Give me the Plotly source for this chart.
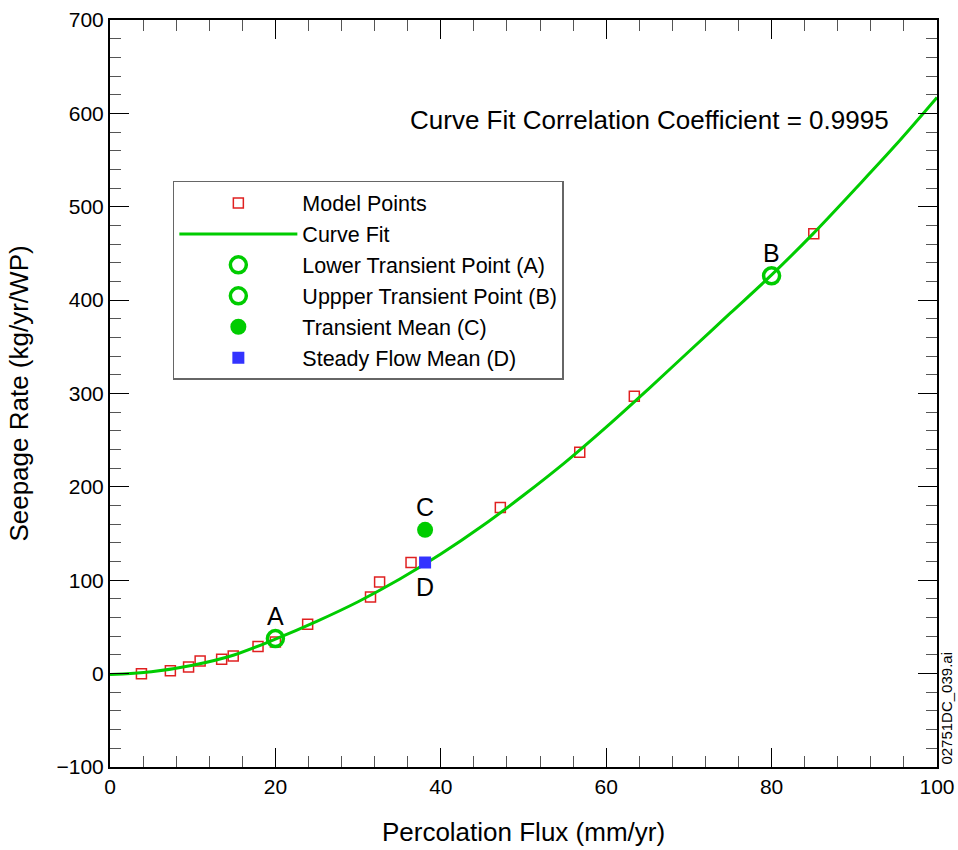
import plotly.graph_objects as go

# Model points
model_x = [3.8, 7.3, 9.5, 10.9, 13.5, 14.9, 17.9, 20.0, 23.9, 31.5, 32.6, 36.4, 47.2, 56.8, 63.4, 85.1]
model_y = [0, 3, 7, 13.5, 15.5, 19, 29, 34, 53, 82, 98, 119, 178, 237, 297, 471]

# Curve fit
fit_x = [0, 5, 10, 15, 20, 25, 30, 35, 40, 45, 50, 55, 60, 65, 70, 75, 80, 85, 90, 95, 100]
fit_y = [-1, 2, 9, 20, 37, 56, 77, 101, 128, 158, 191, 226, 264, 304, 345, 386, 427, 471, 518, 566, 617]

# Special points
a_x, a_y = [20.0], [37.5]
b_x, b_y = [80.0], [426]
c_x, c_y = [38.1], [154]
d_x, d_y = [38.1], [119]

FONT = "Liberation Sans, Arial, sans-serif"
GREEN = "#00cc00"
RED = "#e02020"
BLUE = "#3333ff"

fig = go.Figure()
fig.add_trace(go.Scatter(x=model_x, y=model_y, mode="markers", name="Model Points",
                         marker=dict(symbol="square-open", size=10, color=RED, line=dict(width=1.5, color=RED))))
fig.add_trace(go.Scatter(x=fit_x, y=fit_y, mode="lines", name="Curve Fit",
                         line=dict(color=GREEN, width=3, shape="spline")))
fig.add_trace(go.Scatter(x=a_x, y=a_y, mode="markers", name="Lower Transient Point (A)",
                         marker=dict(symbol="circle-open", size=16, color=GREEN, line=dict(width=3.5, color=GREEN))))
fig.add_trace(go.Scatter(x=b_x, y=b_y, mode="markers", name="Uppper Transient Point (B)",
                         marker=dict(symbol="circle-open", size=16, color=GREEN, line=dict(width=3.5, color=GREEN))))
fig.add_trace(go.Scatter(x=c_x, y=c_y, mode="markers", name="Transient Mean (C)",
                         marker=dict(symbol="circle", size=16, color=GREEN)))
fig.add_trace(go.Scatter(x=d_x, y=d_y, mode="markers", name="Steady Flow Mean (D)",
                         marker=dict(symbol="square", size=12, color=BLUE)))

labels = [("A", a_x[0], a_y[0], 23), ("B", b_x[0], b_y[0], 23), ("C", c_x[0], c_y[0], 23), ("D", d_x[0], d_y[0], -24)]
for t, x, y, ys in labels:
    fig.add_annotation(x=x, y=y, text=t, showarrow=False, yshift=ys,
                       font=dict(family=FONT, size=25, color="black"))

fig.add_annotation(x=65.2, y=593, text="Curve Fit Correlation Coefficient = 0.9995", showarrow=False,
                   font=dict(family=FONT, size=26, color="black"))
fig.add_annotation(xref="paper", yref="paper", x=1.011, y=0, text="02751DC_039.ai", textangle=-90,
                   showarrow=False, xanchor="center", yanchor="bottom",
                   font=dict(family=FONT, size=15, color="black"))

axis_common = dict(
    showgrid=False, zeroline=False, showline=True, linecolor="black", linewidth=2,
    mirror="ticks", ticks="inside", ticklen=19, tickwidth=1, tickcolor="black",
    tickfont=dict(family=FONT, size=21, color="black"), automargin=False,
)
fig.update_xaxes(range=[0, 100], dtick=20, tick0=0,
                 minor=dict(dtick=4, ticks="inside", ticklen=11, tickcolor="#555", tickwidth=1),
                 title=dict(text="Percolation Flux (mm/yr)", font=dict(family=FONT, size=26, color="black"), standoff=26),
                 **axis_common)
fig.update_yaxes(range=[-100, 700], dtick=100, tick0=0,
                 minor=dict(dtick=20, ticks="inside", ticklen=11, tickcolor="#555", tickwidth=1),
                 title=dict(text="Seepage Rate (kg/yr/WP)", font=dict(family=FONT, size=26, color="black"), standoff=20),
                 **axis_common)

fig.update_layout(
    width=958, height=850,
    margin=dict(l=110, r=21, t=20, b=83, autoexpand=False),
    plot_bgcolor="white", paper_bgcolor="white",
    font=dict(family=FONT, color="black"),
    showlegend=True,
    legend=dict(x=0.076, y=0.7845, xanchor="left", yanchor="top",
                bgcolor="white", bordercolor="#666", borderwidth=1.5,
                font=dict(family=FONT, size=21.5, color="black"),
                itemwidth=118, tracegroupgap=0),
)

fig.write_html("out.html")
